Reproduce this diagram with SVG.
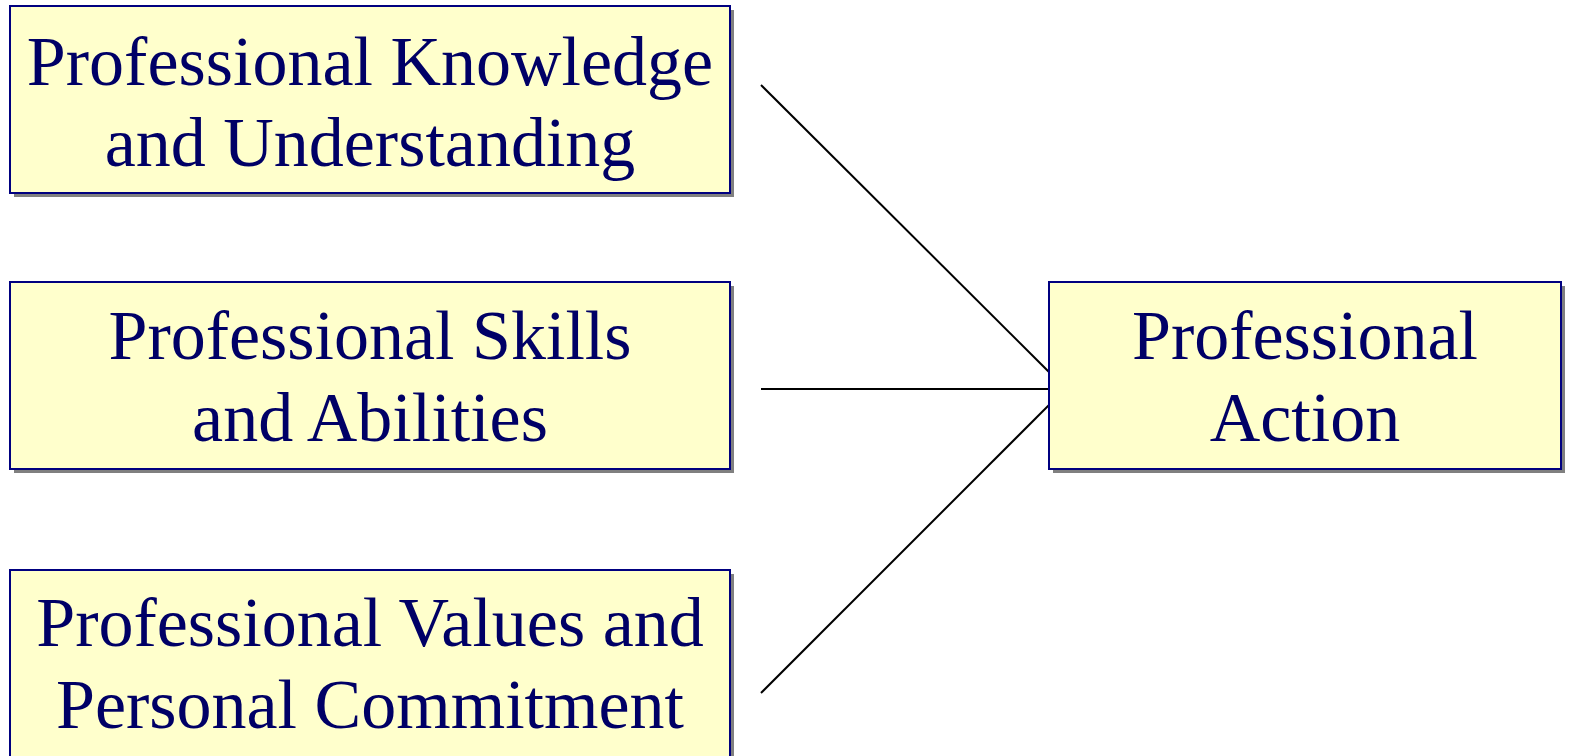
<svg xmlns="http://www.w3.org/2000/svg" width="1571" height="756" viewBox="0 0 1571 756">
<style>
.shadow{fill:#808080}
.box{fill:#FFFFCC;stroke:#000080;stroke-width:2}
.t{font-family:"Liberation Serif","Times New Roman",serif;font-size:70px;fill:#000066;text-anchor:middle}
.c{stroke:#000000;stroke-width:2;fill:none}
</style>
<rect width="1571" height="756" fill="#ffffff"/>
<g id="connectors">
<line class="c" x1="761" y1="85" x2="1049" y2="372"/>
<line class="c" x1="761" y1="389" x2="1049" y2="389"/>
<line class="c" x1="761" y1="693" x2="1049" y2="405"/>
</g>
<g id="knowledge">
<rect class="shadow" x="14" y="10" width="720" height="187"/>
<rect class="box" x="10" y="6" width="720" height="187"/>
<text class="t" x="370" y="85">Professional Knowledge</text>
<text class="t" x="370" y="166">and Understanding</text>
</g>
<g id="skills">
<rect class="shadow" x="14" y="286" width="720" height="187"/>
<rect class="box" x="10" y="282" width="720" height="187"/>
<text class="t" x="370" y="359">Professional Skills</text>
<text class="t" x="370" y="441">and Abilities</text>
</g>
<g id="values">
<rect class="shadow" x="14" y="574" width="720" height="200"/>
<rect class="box" x="10" y="570" width="720" height="200"/>
<text class="t" x="370" y="646">Professional Values and</text>
<text class="t" x="370" y="728">Personal Commitment</text>
</g>
<g id="action">
<rect class="shadow" x="1053" y="286" width="512" height="187"/>
<rect class="box" x="1049" y="282" width="512" height="187"/>
<text class="t" x="1305" y="359">Professional</text>
<text class="t" x="1305" y="441">Action</text>
</g>
</svg>
